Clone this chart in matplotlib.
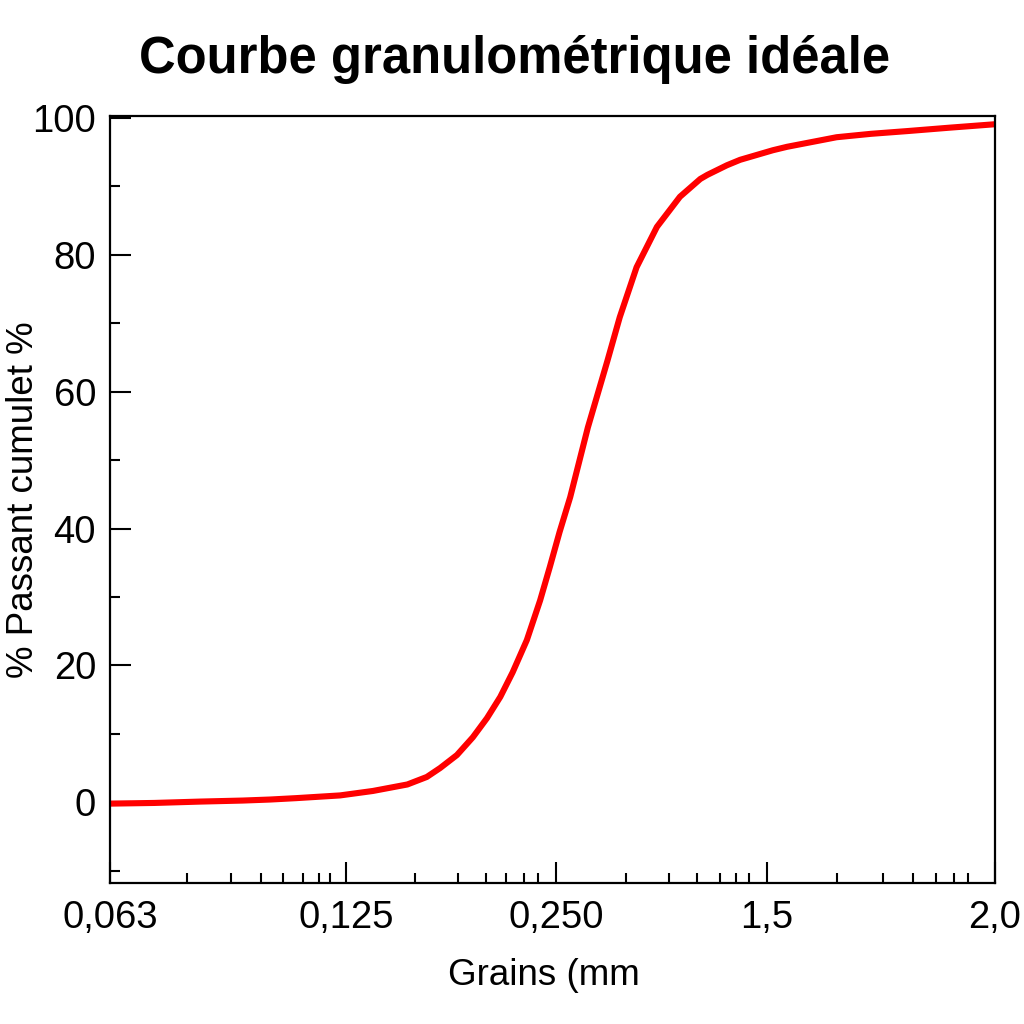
import matplotlib
matplotlib.use("Agg")
import matplotlib.pyplot as plt

# Axis positions are given in percent of the axis width (the reference uses an
# irregular, hand-labelled grain-size scale)
tick_positions = [0, 26.7, 50.4, 74.2, 100]
tick_labels = ["0,063", "0,125", "0,250", "1,5", "2,0"]
minor_positions = [8.7, 13.7, 17.1, 19.6, 21.8, 23.6, 24.9,
                   34.5, 39.3, 42.5, 44.8, 46.8, 48.4,
                   58.3, 63.2, 66.3, 68.9, 70.7, 72.2,
                   82.2, 87.3, 90.7, 93.3, 95.4, 97.0]

# Cumulative passing curve
grain_pos = [0, 5, 10.2, 15, 18.1, 21, 26.0, 29.7, 33.6, 35.8, 37.3, 39.2,
             41.0, 42.6, 44.1, 45.5, 47.1, 48.6, 49.7, 50.8, 52.0, 54.0,
             56.2, 57.6, 59.5, 61.8, 64.4, 66.7, 67.5, 69.7, 71.2,
             74.9, 76.5, 82.1, 86.0, 90.1, 94.9, 100]
passing = [-0.2, -0.1, 0.1, 0.25, 0.4, 0.6, 1.0, 1.65, 2.6, 3.7, 5.0, 6.9,
           9.5, 12.3, 15.4, 19.0, 23.7, 29.5, 34.4, 39.5, 44.6, 54.8,
           64.5, 70.9, 78.2, 84.1, 88.5, 91.1, 91.7, 93.1, 93.9,
           95.3, 95.8, 97.2, 97.7, 98.1, 98.6, 99.1]

plt.rcParams["font.family"] = ["Liberation Sans", "DejaVu Sans"]

fig = plt.figure(figsize=(10.24, 10.24), dpi=100)
ax = fig.add_axes([0.1074, 0.1377, 0.8643, 0.749])

ax.plot(grain_pos, passing, color="#ff0000", linewidth=4.4,
        solid_joinstyle="round", solid_capstyle="butt", clip_on=False)

ax.set_xlim(0, 100)
ax.set_ylim(-11.8, 100.3)

ax.set_xticks(tick_positions)
ax.set_xticklabels(tick_labels)
ax.set_xticks(minor_positions, minor=True)
ax.set_yticks([0, 20, 40, 60, 80, 100])
ax.set_yticks([-10, 10, 30, 50, 70, 90], minor=True)

ax.tick_params(which="both", direction="in", width=1.5, colors="black",
               labelsize=27.5, top=False, right=False)
ax.tick_params(which="major", length=15)
ax.tick_params(which="minor", length=7.5)
ax.tick_params(axis="x", pad=12)
ax.tick_params(axis="y", pad=10)

for spine in ax.spines.values():
    spine.set_linewidth(1.6)

ax.set_xlabel("Grains (mm", fontsize=26.5, labelpad=16)
ax.xaxis.label.set_x(0.49)
ax.set_ylabel("% Passant cumulet %", fontsize=26.5)
ax.yaxis.set_label_coords(-0.078, 0.5)

fig.text(515 / 1024, 1 - 60 / 1024, "Courbe granulométrique idéale",
         ha="center", va="center", fontsize=36.5, fontweight="bold")

fig.savefig("out.png", dpi=100)
plt.close(fig)
